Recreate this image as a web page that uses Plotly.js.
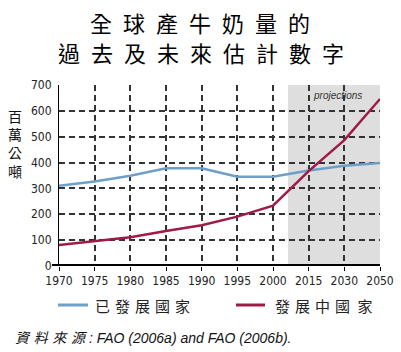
<!DOCTYPE html>
<html><head><meta charset="utf-8">
<script src="https://cdn.plot.ly/plotly-3.0.1.min.js"></script>
<style>html,body{margin:0;padding:0;background:#fff;}#c{width:401px;height:352px;}</style>
</head><body><div id="c"></div>
<script>
const years = ['1970','1975','1980','1985','1990','1995','2000','2015','2030','2050'];
const developed = [310, 327, 349, 378, 378, 345, 345, 369, 388, 398];
const developing = [81, 96, 111, 135, 158, 191, 233, 367, 487, 646];
const yTicks = [0,100,200,300,400,500,600,700];
const projStart = 6.42;

const cjk = '"Noto Sans CJK TC", "Noto Sans CJK SC", sans-serif';
const E = '\u2002';
const S = '\u2004';
const sp = (s, g) => s.split('').join(g);

const px = v => (v - 59) / 321;
const py = v => (266 - v) / 181;

const data = [
  {x: years, y: developed, type: 'scatter', mode: 'lines', line: {color: '#6e9fc6', width: 2.5}, showlegend: false, hoverinfo: 'skip'},
  {x: years, y: developing, type: 'scatter', mode: 'lines', line: {color: '#9e1a48', width: 2.5}, showlegend: false, hoverinfo: 'skip'}
];

const tickFont = {family: '"DejaVu Sans Condensed", "Liberation Sans Narrow", sans-serif', size: 12, color: '#222'};

const layout = {
  width: 401, height: 352,
  margin: {l: 59, r: 21, t: 85, b: 86},
  paper_bgcolor: '#fff', plot_bgcolor: '#fff',
  showlegend: false,
  xaxis: {
    type: 'category', range: [0, 9], categoryarray: years,
    showgrid: true, gridcolor: '#333', griddash: '6px,4px', gridwidth: 2,
    zeroline: false, showline: false,
    ticks: 'outside', ticklen: 4, tickcolor: '#000', tickwidth: 1,
    tickfont: tickFont,
    fixedrange: true
  },
  yaxis: {
    range: [0, 700], tickvals: yTicks, ticktext: yTicks.map(String),
    showgrid: true, gridcolor: '#333', griddash: '6px,4px', gridwidth: 2,
    zeroline: false, showline: true, linecolor: '#000', linewidth: 1,
    ticks: '', ticklabelstandoff: 4,
    tickfont: tickFont,
    fixedrange: true
  },
  shapes: [
    {type: 'rect', xref: 'x', yref: 'y', x0: projStart, x1: 9, y0: 0, y1: 700, fillcolor: '#dedede', line: {width: 0}, layer: 'below'},
    {type: 'line', xref: 'paper', yref: 'y', x0: px(52), x1: 1, y0: 0, y1: 0, line: {color: '#000', width: 4}},
    {type: 'line', xref: 'paper', yref: 'paper', x0: px(58), x1: px(88), y0: py(305), y1: py(305), line: {color: '#6e9fc6', width: 3}},
    {type: 'line', xref: 'paper', yref: 'paper', x0: px(236), x1: px(265), y0: py(305), y1: py(305), line: {color: '#9e1a48', width: 3}}
  ],
  annotations: [
    {text: sp('全球產牛奶量的', E), xref: 'paper', yref: 'paper', x: px(200), y: py(22), xanchor: 'center', yanchor: 'middle', showarrow: false, font: {family: cjk, size: 22, color: '#000'}},
    {text: sp('過去及未來估計數字', E), xref: 'paper', yref: 'paper', x: px(201), y: py(52), xanchor: 'center', yanchor: 'middle', showarrow: false, font: {family: cjk, size: 22, color: '#000'}},
    {text: '百<br>萬<br>公<br>噸', xref: 'paper', yref: 'paper', x: px(15), y: py(143), xanchor: 'center', yanchor: 'middle', showarrow: false, font: {family: cjk, size: 14, color: '#111'}},
    {text: '<i>projections</i>', xref: 'paper', yref: 'paper', x: px(337), y: py(95), xanchor: 'center', yanchor: 'middle', showarrow: false, font: {family: '"Liberation Sans", Arial, sans-serif', size: 10, color: '#333'}},
    {text: sp('已發展國家', S), xref: 'paper', yref: 'paper', x: px(93), y: py(305), xanchor: 'left', yanchor: 'middle', showarrow: false, font: {family: cjk, size: 15, color: '#222'}},
    {text: sp('發展中國', S) + E + '家', xref: 'paper', yref: 'paper', x: px(273), y: py(305), xanchor: 'left', yanchor: 'middle', showarrow: false, font: {family: cjk, size: 15, color: '#222'}},
    {text: '<i>' + sp('資料來源', S) + '</i> <i>: FAO (2006a) and FAO (2006b).</i>', xref: 'paper', yref: 'paper', x: px(13), y: py(338), xanchor: 'left', yanchor: 'middle', showarrow: false, font: {family: '"Liberation Sans", Arial, ' + cjk, size: 14, color: '#111'}}
  ]
};

Plotly.newPlot('c', data, layout, {staticPlot: true, displayModeBar: false});
</script></body></html>
